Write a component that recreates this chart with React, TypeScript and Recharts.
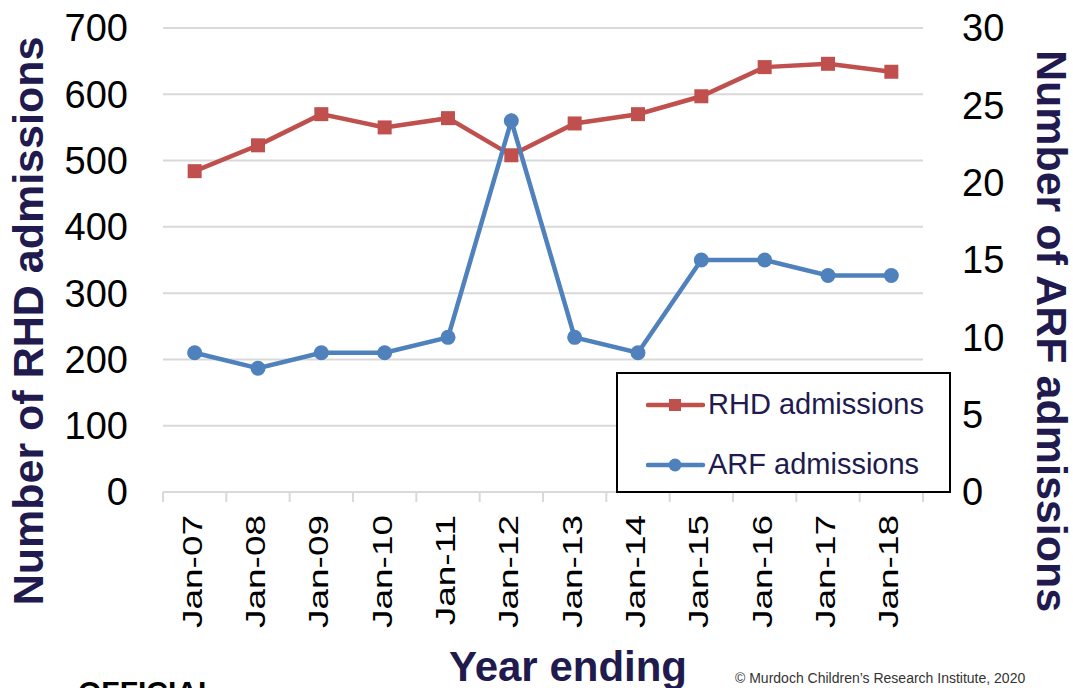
import React from 'react';
import { LineChart, Line, XAxis, YAxis, CartesianGrid, Legend, Label } from 'recharts';

const years = ['Jan-07', 'Jan-08', 'Jan-09', 'Jan-10', 'Jan-11', 'Jan-12', 'Jan-13', 'Jan-14', 'Jan-15', 'Jan-16', 'Jan-17', 'Jan-18'];
const rhdAdmissions = [484, 523, 570, 550, 564, 508, 556, 570, 597, 641, 646, 634];
const arfAdmissions = [9, 8, 9, 9, 10, 24, 10, 9, 15, 15, 14, 14];
const leftTicks = [0, 100, 200, 300, 400, 500, 600, 700];
const rightTicks = [0, 5, 10, 15, 20, 25, 30];

const data = years.map((year, i) => ({ year, rhd: rhdAdmissions[i], arf: arfAdmissions[i] }));

const RED = '#C0504D';
const BLUE = '#4F81BD';
const NAVY = '#201A4E';
const FONT = '"Liberation Sans", Arial, sans-serif';
const PLOT_W = 760;
const HALF_BAND = PLOT_W / years.length / 2;

const XTick = (props: any) => {
  const { x, y, payload, index } = props;
  const isLast = index === years.length - 1;
  return (
    <g>
      <line x1={x - HALF_BAND} y1={y} x2={x - HALF_BAND} y2={y + 10} stroke="#d9d9d9" strokeWidth={2} />
      {isLast && <line x1={x + HALF_BAND} y1={y} x2={x + HALF_BAND} y2={y + 10} stroke="#d9d9d9" strokeWidth={2} />}
      <text
        transform={`translate(${x + 7},${y + 23}) rotate(-90) scale(1.32,1)`}
        textAnchor="end"
        fontSize={28}
        fontFamily={FONT}
        fill="#000"
      >
        {payload.value}
      </text>
    </g>
  );
};

const SquareDot = (props: any) => {
  const { cx, cy } = props;
  if (cx == null || cy == null) return null;
  return <rect x={cx - 7} y={cy - 7} width={14} height={14} fill={RED} />;
};

const CircleDot = (props: any) => {
  const { cx, cy } = props;
  if (cx == null || cy == null) return null;
  return <circle cx={cx} cy={cy} r={7.5} fill={BLUE} />;
};

const renderLegend = (props: any) => {
  const payload = props.payload || [];
  return (
    <div
      style={{
        width: 335,
        height: 121,
        border: '2px solid #000',
        boxSizing: 'border-box',
        background: '#fff',
        position: 'relative',
        fontFamily: FONT,
      }}
    >
      {payload.map((entry: any, i: number) => {
        const isRhd = entry.dataKey === 'rhd';
        return (
          <div key={i} style={{ position: 'absolute', left: 0, top: (isRhd ? 31 : 91) - 20, height: 40, width: 331 }}>
            <svg width={60} height={40} style={{ position: 'absolute', left: 28, top: 0 }}>
              <line x1={2} y1={20} x2={57} y2={20} stroke={entry.color} strokeWidth={4.5} strokeLinecap="round" />
              {isRhd ? (
                <rect x={23} y={14} width={12} height={12} fill={RED} />
              ) : (
                <circle cx={29} cy={20} r={6.5} fill={BLUE} />
              )}
            </svg>
            <span
              style={{
                position: 'absolute',
                left: 90,
                top: 2,
                fontSize: 29,
                lineHeight: '34px',
                color: NAVY,
                whiteSpace: 'nowrap',
              }}
            >
              {entry.value}
            </span>
          </div>
        );
      })}
    </div>
  );
};

const LeftTitle = () => (
  <text transform="translate(43,321) rotate(-90)" textAnchor="middle" fontSize={43} fontWeight="bold" fontFamily={FONT} fill={NAVY}>
    Number of RHD admissions
  </text>
);

const RightTitle = () => (
  <text transform="translate(1037,331) rotate(90)" textAnchor="middle" fontSize={43} fontWeight="bold" fontFamily={FONT} fill={NAVY}>
    Number of ARF admissions
  </text>
);

const XTitle = () => (
  <text x={568} y={681} textAnchor="middle" fontSize={42} fontWeight="bold" fontFamily={FONT} fill={NAVY}>
    Year ending
  </text>
);

export default function App() {
  return (
    <div
      style={{
        position: 'absolute',
        left: 0,
        top: 0,
        width: 1073,
        height: 688,
        overflow: 'hidden',
        background: '#fff',
        fontFamily: FONT,
      }}
    >
      <LineChart width={1073} height={688} data={data} margin={{ top: 28, right: 0, bottom: 0, left: 0 }}>
        <CartesianGrid vertical={false} stroke="#d9d9d9" strokeWidth={2} yAxisId="left" />
        <XAxis
          dataKey="year"
          scale="band"
          height={196}
          interval={0}
          axisLine={{ stroke: '#d9d9d9', strokeWidth: 2 }}
          tickLine={false}
          tickSize={0}
          tickMargin={0}
          tick={<XTick />}
        >
          <Label content={<XTitle />} />
        </XAxis>
        <YAxis
          yAxisId="left"
          orientation="left"
          width={163}
          domain={[0, 700]}
          ticks={leftTicks}
          interval={0}
          axisLine={false}
          tickLine={false}
          tickSize={0}
          tickMargin={35}
          tick={{ fontSize: 38, fill: '#000', fontFamily: FONT }}
        >
          <Label content={<LeftTitle />} />
        </YAxis>
        <YAxis
          yAxisId="right"
          orientation="right"
          width={150}
          domain={[0, 30]}
          ticks={rightTicks}
          interval={0}
          axisLine={false}
          tickLine={false}
          tickSize={0}
          tickMargin={39}
          tick={{ fontSize: 38, fill: '#000', fontFamily: FONT, textAnchor: 'start' }}
        >
          <Label content={<RightTitle />} />
        </YAxis>
        <Legend
          layout="horizontal"
          verticalAlign="middle"
          align="center"
          content={renderLegend}
          wrapperStyle={{ position: 'absolute', left: 616, top: 372, width: 335, height: 121 }}
        />
        <Line
          yAxisId="left"
          type="linear"
          dataKey="rhd"
          name="RHD admissions"
          stroke={RED}
          strokeWidth={4.5}
          dot={<SquareDot />}
          activeDot={false}
          isAnimationActive={false}
        />
        <Line
          yAxisId="right"
          type="linear"
          dataKey="arf"
          name="ARF admissions"
          stroke={BLUE}
          strokeWidth={4.5}
          dot={<CircleDot />}
          activeDot={false}
          isAnimationActive={false}
        />
      </LineChart>
      <div style={{ position: 'absolute', left: 735, top: 670, fontSize: 14, color: '#333', whiteSpace: 'nowrap', fontFamily: FONT }}>
        © Murdoch Children’s Research Institute, 2020
      </div>
      <div style={{ position: 'absolute', left: 78, top: 675, fontSize: 30, fontWeight: 'bold', color: '#000', whiteSpace: 'nowrap', fontFamily: FONT }}>
        OFFICIAL
      </div>
    </div>
  );
}
